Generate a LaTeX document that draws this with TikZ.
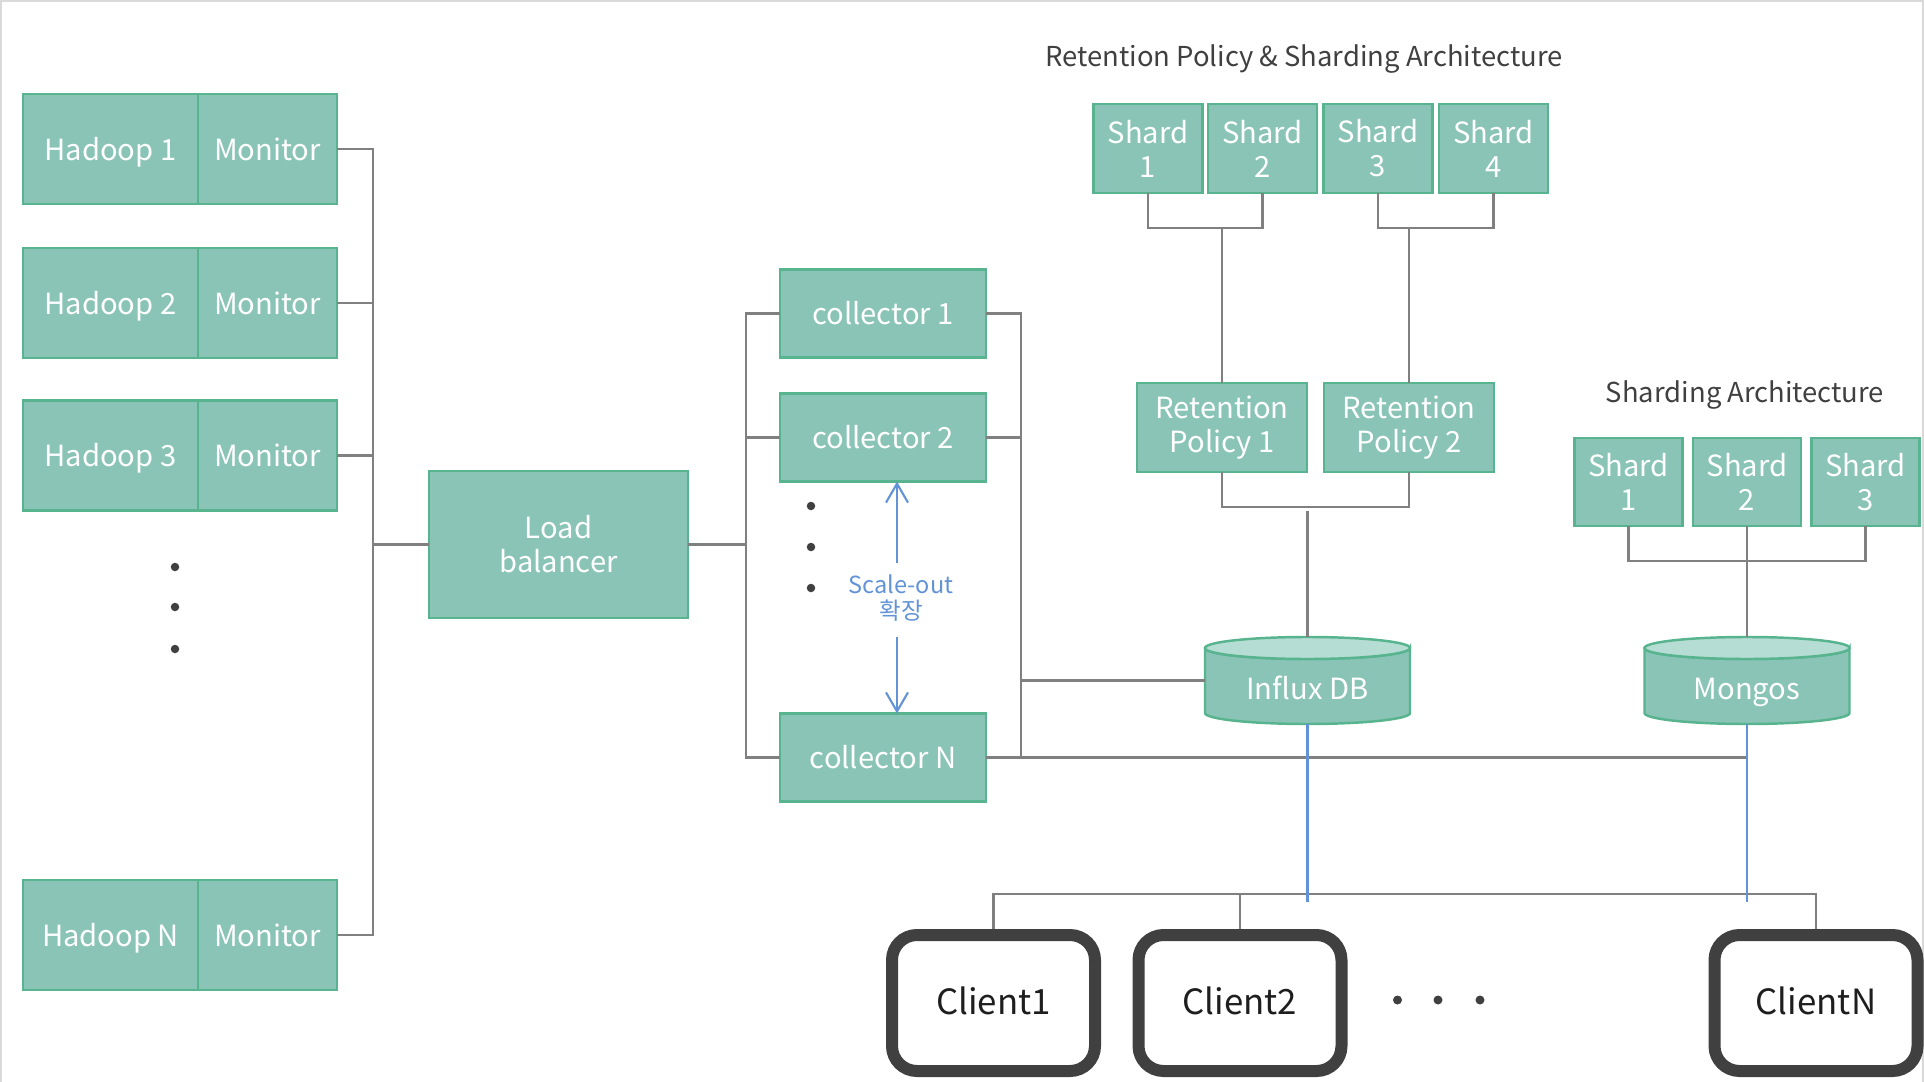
\documentclass[tikz,border=0pt]{standalone}
\usepackage{fontspec}
\setmainfont{Noto Sans CJK KR}
\usetikzlibrary{arrows.meta,positioning}

\definecolor{boxfill}{RGB}{137,196,182}
\definecolor{boxline}{RGB}{88,180,142}
\definecolor{dbtop}{RGB}{182,221,211}
\definecolor{connline}{RGB}{128,128,128}
\definecolor{scaleblue}{RGB}{98,147,214}
\definecolor{dotgray}{RGB}{64,64,64}
\definecolor{clientline}{RGB}{64,64,64}
\definecolor{clienttext}{RGB}{30,30,30}
\definecolor{titlegray}{RGB}{64,64,64}
\definecolor{framegray}{RGB}{217,217,217}

\begin{document}
\begin{tikzpicture}[
    box/.style={draw=boxline,fill=boxfill,line width=0.7pt,text=white,font=\fontsize{8.3}{9.7}\selectfont,align=center,inner sep=0pt,outer sep=0pt},
    oneline/.style={text height=1.6ex,text depth=0.4ex},
    conn/.style={draw=connline,line width=0.7pt},
    blueline/.style={draw=scaleblue,line width=0.8pt},
    client/.style={draw=clientline,line width=0.12cm,fill=white,rounded corners=0.25cm,minimum width=2.03cm,minimum height=1.36cm,font=\fontsize{9.9}{12}\selectfont,text=clienttext,oneline},
    title/.style={text=titlegray,font=\fontsize{7.8}{9}\selectfont},
    dot/.style={circle,fill=dotgray,inner sep=0pt,minimum size=0.085cm}
  ]
    \useasboundingbox (0,0) rectangle (19.24,-10.82);
    \draw[framegray,line width=0.02cm] (0.01,-10.82) -- (0.01,-0.01) -- (19.23,-0.01) -- (19.23,-10.82);

    % hadoop nodes with monitors
    \node[box,oneline,minimum width=1.75cm,minimum height=1.10cm] (hadoop1) at (1.105,-1.49) {Hadoop 1};
    \node[box,oneline,minimum width=1.39cm,minimum height=1.10cm,right=0pt of hadoop1] (mon1) {Monitor};
    \node[box,oneline,minimum width=1.75cm,minimum height=1.10cm] (hadoop2) at (1.105,-3.03) {Hadoop 2};
    \node[box,oneline,minimum width=1.39cm,minimum height=1.10cm,right=0pt of hadoop2] (mon2) {Monitor};
    \node[box,oneline,minimum width=1.75cm,minimum height=1.10cm] (hadoop3) at (1.105,-4.555) {Hadoop 3};
    \node[box,oneline,minimum width=1.39cm,minimum height=1.10cm,right=0pt of hadoop3] (mon3) {Monitor};
    \node[box,oneline,minimum width=1.75cm,minimum height=1.10cm] (hadoopN) at (1.105,-9.35) {Hadoop N};
    \node[box,oneline,minimum width=1.39cm,minimum height=1.10cm,right=0pt of hadoopN] (monN) {Monitor};

    \node[dot] (hdot1) at (1.75,-5.67) {};
    \node[dot] (hdot2) at (1.75,-6.07) {};
    \node[dot] (hdot3) at (1.75,-6.49) {};

    \node[box,minimum width=2.59cm,minimum height=1.47cm] (lb) at (5.585,-5.445) {Load\\balancer};

    % collectors
    \node[box,oneline,minimum width=2.06cm,minimum height=0.88cm] (coll1) at (8.83,-3.135) {collector 1};
    \node[box,oneline,minimum width=2.06cm,minimum height=0.88cm] (coll2) at (8.83,-4.375) {collector 2};
    \node[box,oneline,minimum width=2.06cm,minimum height=0.88cm] (collN) at (8.83,-7.575) {collector N};

    \node[dot] (cdot1) at (8.11,-5.06) {};
    \node[dot] (cdot2) at (8.11,-5.47) {};
    \node[dot] (cdot3) at (8.11,-5.88) {};

    % scale-out
    \node[text=scaleblue,font=\fontsize{6.7}{7.6}\selectfont,align=center] (scaleout) at (9.01,-5.98) {Scale-out\\확장};
    \coordinate (sotop) at (8.97,-5.63);
    \coordinate (sobot) at (8.97,-6.365);
    \draw[scaleblue,line width=0.6pt,-{Straight Barb[length=0.19cm,width=0.22cm]}] (sotop) -- (sotop |- coll2.south);
    \draw[scaleblue,line width=0.6pt,-{Straight Barb[length=0.19cm,width=0.22cm]}] (sobot) -- (sobot |- collN.north);

    % retention policy & sharding
    \node[title] (rptitle) at (13.04,-0.59) {Retention Policy \& Sharding Architecture};
    \node[box,minimum width=1.09cm,minimum height=0.89cm] (shard11) at (11.48,-1.485) {Shard\\1};
    \node[box,minimum width=1.09cm,minimum height=0.89cm] (shard12) at (12.625,-1.485) {Shard\\2};
    \node[box,minimum width=1.09cm,minimum height=0.89cm] (shard13) at (13.78,-1.485) {Shard\\3};
    \node[box,minimum width=1.09cm,minimum height=0.89cm] (shard14) at (14.935,-1.485) {Shard\\4};
    \node[box,minimum width=1.70cm,minimum height=0.89cm] (rp1) at (12.22,-4.275) {Retention\\Policy 1};
    \node[box,minimum width=1.70cm,minimum height=0.89cm] (rp2) at (14.09,-4.275) {Retention\\Policy 2};

    % sharding
    \node[title] (shtitle) at (17.45,-3.95) {Sharding Architecture};
    \node[box,minimum width=1.08cm,minimum height=0.88cm] (shard21) at (16.285,-4.82) {Shard\\1};
    \node[box,minimum width=1.08cm,minimum height=0.88cm] (shard22) at (17.47,-4.82) {Shard\\2};
    \node[box,minimum width=1.08cm,minimum height=0.88cm] (shard23) at (18.655,-4.82) {Shard\\3};

    % databases
    \node[minimum width=2.05cm,minimum height=0.87cm,inner sep=0pt,outer sep=0pt] (influx) at (13.075,-6.805) {};
    \node[minimum width=2.05cm,minimum height=0.87cm,inner sep=0pt,outer sep=0pt] (mongos) at (17.47,-6.805) {};
    \foreach \db in {influx,mongos} {
      \path[draw=boxline,fill=boxfill,line width=0.7pt] ([yshift=-0.11cm]\db.north west) -- ([yshift=0.11cm]\db.south west)
        arc[start angle=180,end angle=360,x radius=1.025,y radius=0.11] -- ([yshift=-0.11cm]\db.north east)
        arc[start angle=0,end angle=-180,x radius=1.025,y radius=0.11] -- cycle;
      \draw[boxline,fill=dbtop,line width=0.7pt] ([yshift=-0.11cm]\db.north) ellipse[x radius=1.025,y radius=0.11];
    }
    \node[text=white,font=\fontsize{8.3}{10}\selectfont,oneline] (influxlabel) at (13.075,-6.88) {Influx DB};
    \node[text=white,font=\fontsize{8.3}{10}\selectfont,oneline] (mongoslabel) at (17.47,-6.88) {Mongos};

    % clients
    \node[client] (client1) at (9.935,-10.03) {Client1};
    \node[client] (client2) at (12.40,-10.03) {Client2};
    \node[client] (clientN) at (18.16,-10.03) {ClientN};
    \node[dot,minimum size=0.09cm] (kdot1) at (13.975,-10.00) {};
    \node[dot,minimum size=0.09cm] (kdot2) at (14.38,-10.00) {};
    \node[dot,minimum size=0.09cm] (kdot3) at (14.80,-10.00) {};

    % connectors
    \coordinate (hbus) at (3.73,-5.445);
    \foreach \m in {mon1,mon2,mon3,monN}
    \draw[conn] (\m.east) -| (hbus);
    \draw[conn] (hbus) -- (lb.west);

    \coordinate (cbusL) at (7.46,-5.445);
    \draw[conn] (lb.east) -- (cbusL);
    \foreach \c in {coll1,coll2,collN}
    \draw[conn] (cbusL) |- (\c.west);

    \coordinate (cbusR) at (10.21,-6.805);
    \foreach \c in {coll1,coll2,collN}
    \draw[conn] (\c.east) -| (cbusR);
    \draw[conn] (cbusR) -- (influx.west);
    \draw[conn] (collN.east) -- (collN.east -| mongos.south);

    \foreach \from/\to in {shard11/shard12,shard13/shard14,rp1/rp2,shard21/shard23}
    \draw[conn] (\from.south) -- ++(0,-0.35) -| (\to.south);
    \draw[conn] (rp1.north) -- ++(0,1.55);
    \draw[conn] (rp2.north) -- ++(0,1.55);
    \draw[conn] (influx.north) -- ++(0,1.26);
    \draw[conn] (shard22.south) -- (mongos.north);

    \draw[conn] (client1.north) -- ++(0,0.35) -| (clientN.north);
    \draw[conn] (client2.north) -- ++(0,0.35);
    \draw[blueline] (influx.south) -- ++(0,-1.78);
    \draw[blueline] (mongos.south) -- ++(0,-1.78);
\end{tikzpicture}
\end{document}
